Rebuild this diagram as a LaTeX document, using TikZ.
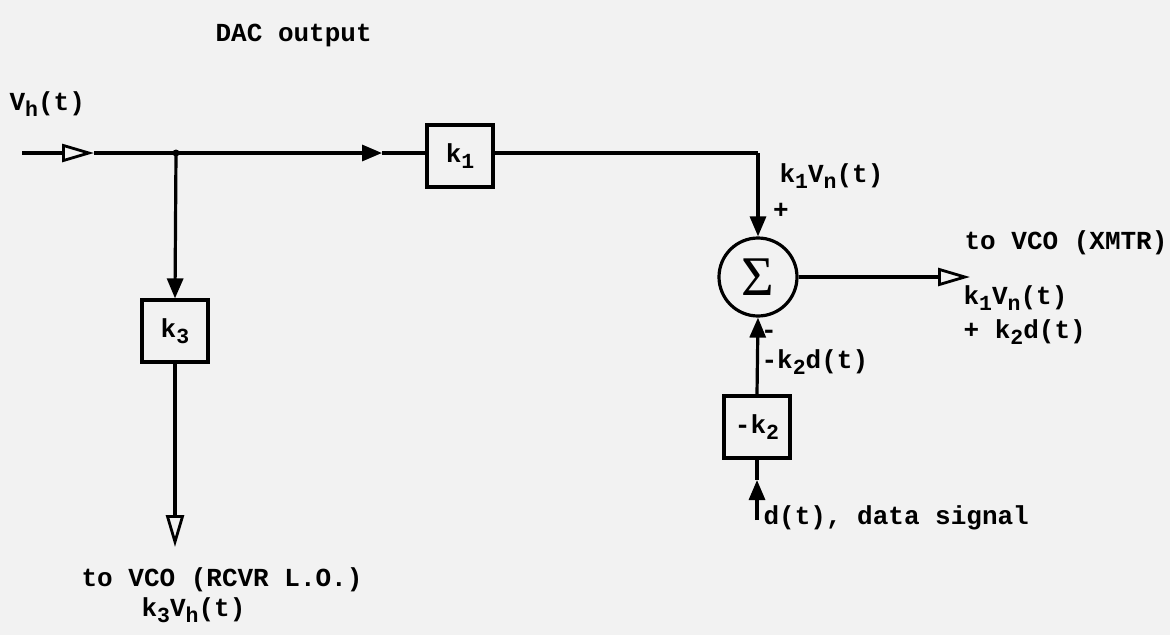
\documentclass[tikz,border=0pt]{standalone}
\usepackage{fontspec}
\setmonofont{Liberation Mono}
\newfontfamily\sigfont{Liberation Serif}
\usetikzlibrary{arrows.meta}
\newcommand\sbs[1]{\raisebox{-0.4ex}{\fontsize{21.5}{21.5}\selectfont #1}}
\begin{document}
\begin{tikzpicture}[x=1pt,y=-1pt,line width=3.2pt,
  txt/.style={font=\ttfamily\bfseries\fontsize{26}{30}\selectfont, inner sep=0pt},
  blk/.style={draw, minimum width=66pt, minimum height=62pt, font=\ttfamily\bfseries\fontsize{26}{30}\selectfont, inner sep=0pt},
  sumnode/.style={draw, circle, minimum size=78pt, inner sep=0pt},
  openhead/.style={-{Triangle[open,length=32pt,width=18pt,line width=2.8pt]}},
  fillhead/.style={-{Triangle[length=20pt,width=16pt]}}]
\useasboundingbox[fill=black!5] (0,0) rectangle (1170,635);

% labels
\node[txt, anchor=west] (dac) at (214,35) {DAC output};
\node[txt, anchor=west] (vh) at (8,104) {V\sbs{h}(t)};

% blocks
\node[blk] (k1) at (460,156) {k\sbs{1}};
\node[blk] (k3) at (175,331) {k\sbs{3}};
\node[blk] (k2) at (757,427) {-k\sbs{2}};
\node[sumnode] (sum) at (758,277) {\sigfont\fontsize{56}{56}\selectfont Σ};

% coordinates
\coordinate (in) at (22,153);
\coordinate (inhead) at (94,153);
\coordinate (junc) at (176,153);
\coordinate (midarr) at (382,153);
\coordinate (corner) at (758,153);
\coordinate (outhead) at (970,277);
\coordinate (k3out) at (175,547);
\coordinate (dsrc) at (757,520);
\coordinate (k2arr) at (757,480);

% main line
\draw[openhead] (in) -- (inhead);
\draw (inhead) -- (junc);
\draw[fillhead] (junc) -- (midarr);
\draw (midarr) -- (k1.west |- midarr);
\draw (k1.east |- corner) -- (corner);
\draw[fillhead] (corner) -- (sum.north);
\fill (junc) circle (3.5pt);

% branch to k3
\draw[fillhead] (junc) -- (k3.north);
\draw[openhead] (k3.south) -- (k3out);

% output
\draw[openhead] (sum.east) -- (outhead);

% -k2 path
\draw[fillhead] (k2.north) -- (sum.south);
\draw[fillhead] (dsrc) -- (k2arr);
\draw (k2arr) -- (k2.south);

% signs and signal labels
\node[txt] (plus) at (781,211) {+};
\node[txt] (minus) at (769,334) {-};
\node[txt, anchor=west] (k1vn) at (778,176) {k\sbs{1}V\sbs{n}(t)};
\node[txt, anchor=west] (k2d) at (760,362) {-k\sbs{2}d(t)};
\node[txt, anchor=west] (dsig) at (762,518) {d(t), data signal};
\node[txt, anchor=west] (xmtr) at (963,243) {to VCO (XMTR)};
\node[txt, anchor=west] (sum1) at (962,298) {k\sbs{1}V\sbs{n}(t)};
\node[txt, anchor=west] (sum2) at (962,332) {+ k\sbs{2}d(t)};
\node[txt, anchor=west] (rcvr) at (80,580) {to VCO (RCVR L.O.)};
\node[txt, anchor=west] (k3vh) at (140,610) {k\sbs{3}V\sbs{h}(t)};
\end{tikzpicture}
\end{document}
